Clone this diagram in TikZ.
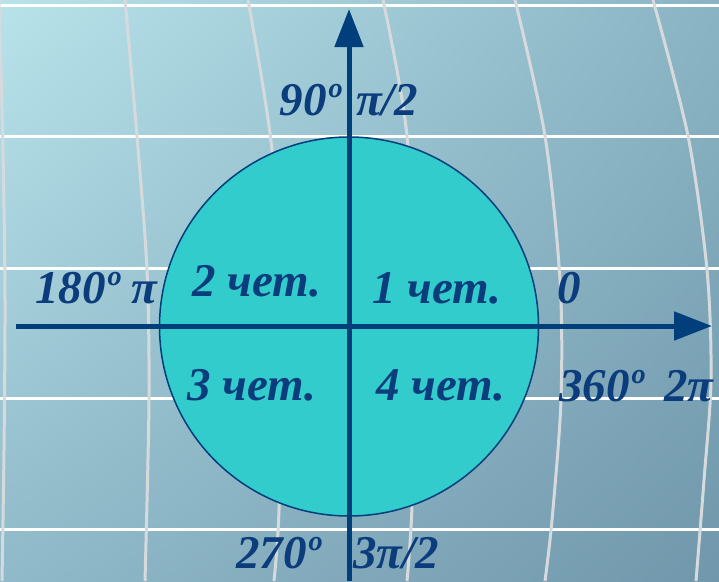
\documentclass[tikz,border=0pt]{standalone}
\usepackage{fontspec}
\setmainfont{Liberation Serif}
\usetikzlibrary{arrows.meta,shadings}
\definecolor{bgUL}{HTML}{B8E3EA}
\definecolor{bgUR}{HTML}{8AB4C4}
\definecolor{bgLL}{HTML}{90B9C9}
\definecolor{bgLR}{HTML}{7097AB}
\definecolor{navy}{HTML}{003E7C}
\definecolor{txt}{HTML}{0B3C7C}
\definecolor{disc}{HTML}{33CCCC}
\definecolor{vline}{HTML}{D6DADD}
\tikzset{
  gridh/.style={white, line width=3pt},
  gridv/.style={vline, line width=3pt},
  axis/.style={navy, line width=5pt, -{Triangle[length=38pt,width=28pt]}},
  lbl/.style={txt, font=\fontsize{47}{50}\selectfont\bfseries\itshape, inner sep=0pt, anchor=base west},
}
\begin{document}
\begin{tikzpicture}[x=1pt,y=-1pt]
\useasboundingbox (0,0) rectangle (719,581);
\shade[upper left=bgUL, upper right=bgUR, lower left=bgLL, lower right=bgLR] (0,0) rectangle (719,581);
% horizontal grid lines
\foreach \yy in {5,136,268,398,529} \draw[gridh] (0,\yy) -- (719,\yy);
% curved vertical grid lines
\draw[gridv] plot[smooth] coordinates {(-1,0) (3,150) (5,300) (4,450) (2,581)};
\draw[gridv] plot[smooth] coordinates {(125,0) (137,136) (147,270) (149,400) (145,581)};
\draw[gridv] plot[smooth] coordinates {(248,0) (272,150) (282,330) (279,510) (274,581)};
\draw[gridv] plot[smooth] coordinates {(383,0) (407,136) (415,330) (412,505) (407,581)};
\draw[gridv] plot[smooth] coordinates {(515,0) (545,136) (560,280) (561,400) (552,520) (545,581)};
\draw[gridv] plot[smooth] coordinates {(653,0) (688,136) (707,270) (711,380) (704,480) (696,581)};
% circle
\node[circle, draw=navy, line width=1.5pt, fill=disc, minimum size=379pt, inner sep=0pt] (c) at (349,326.5) {};
% axes
\coordinate (xl) at (16,326);
\coordinate (xr) at (712,326);
\coordinate (yb) at (349,581);
\coordinate (yt) at (349,9);
\draw[axis] (xl) -- (xr);
\draw[axis] (yb) -- (yt);
% labels
\node[lbl, anchor=base east] (d90) at (341,115) {90º};
\node[lbl] (p2) at (356,115) {π/2};
\node[lbl] (d180) at (35,303) {180º π};
\node[lbl] (q2) at (192,296) {2 чет.};
\node[lbl] (q1) at (372,303) {1 чет.};
\node[lbl] (z) at (557,303) {0};
\node[lbl] (q3) at (187,400) {3 чет.};
\node[lbl] (q4) at (376,400) {4 чет.};
\node[lbl] (d360) at (559,401) {360º};
\node[lbl] (tp) at (664,401) {2π};
\node[lbl, anchor=base east] (d270) at (321,568) {270º};
\node[lbl] (p32) at (353,568) {3π/2};
\end{tikzpicture}
\end{document}
